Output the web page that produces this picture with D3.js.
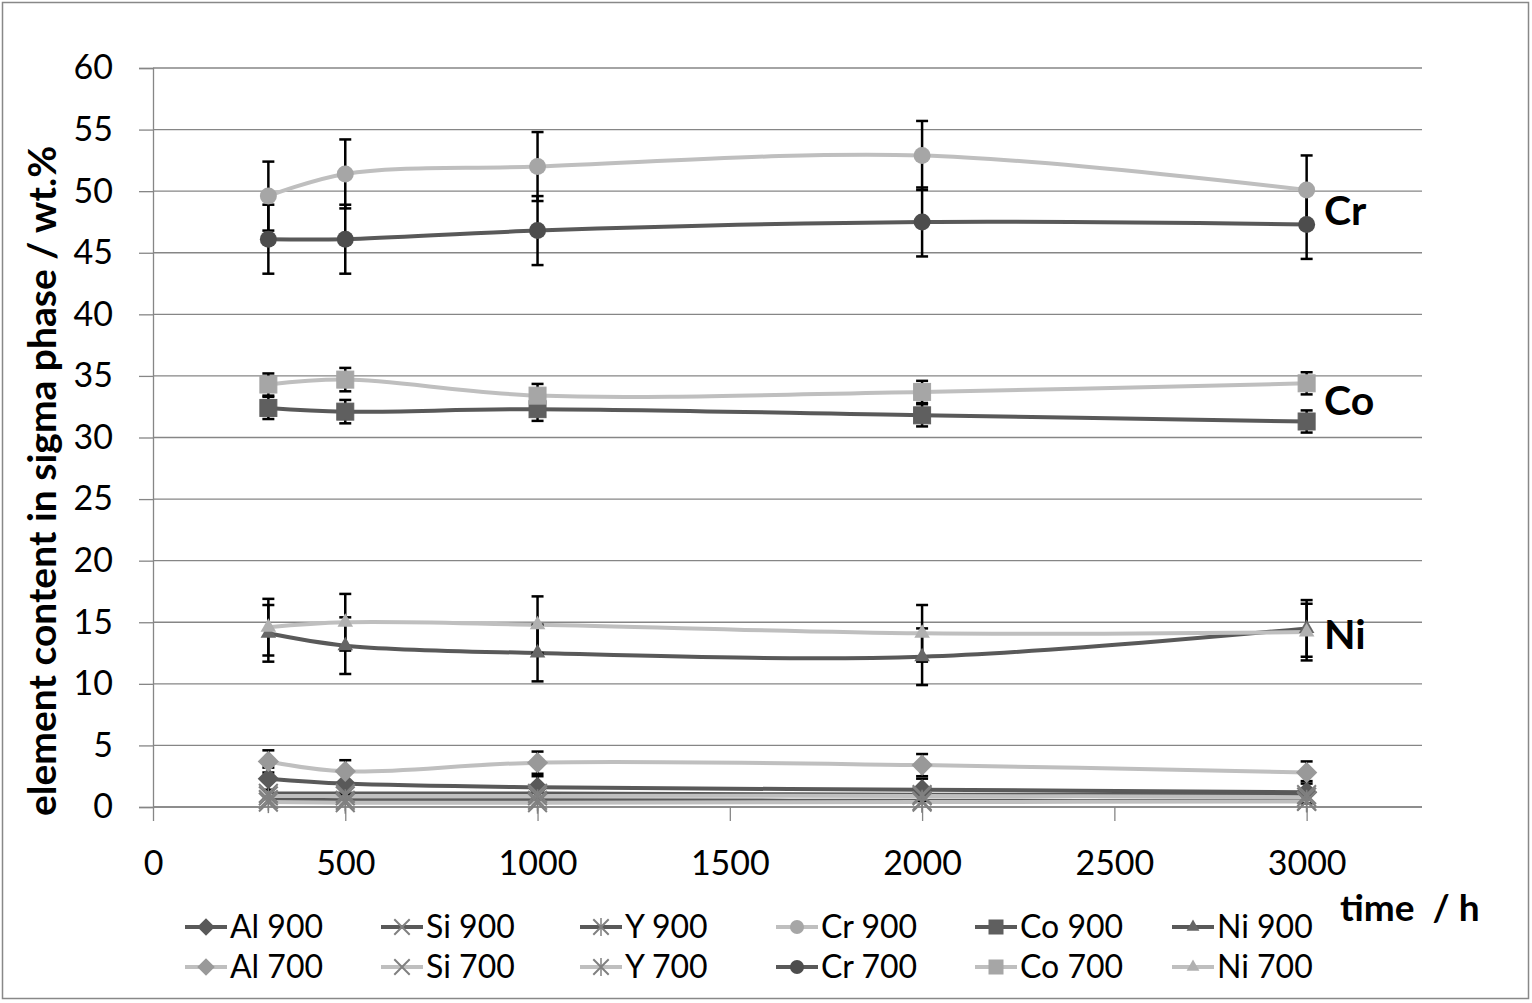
<!DOCTYPE html>
<html>
<head>
<meta charset="utf-8">
<script src="https://cdn.jsdelivr.net/npm/d3@7"></script>
<style>
  body { margin: 0; background: #fff; }
  svg { display: block; }
  text { font-family: Lato, "Open Sans", sans-serif; fill: #000; }
</style>
</head>
<body>
<svg width="1532" height="1003"></svg>
<script>
// time points (h)
const times = [300, 500, 1000, 2000, 3000];
const xTicks = [0, 500, 1000, 1500, 2000, 2500, 3000];
const yTicks = [0, 5, 10, 15, 20, 25, 30, 35, 40, 45, 50, 55, 60];

// element content in sigma phase (wt.%)
const al900 = [2.3, 1.9, 1.6, 1.4, 1.2];
const al700 = [3.7, 2.9, 3.6, 3.4, 2.8];
const si900 = [1.1, 1.1, 1.1, 1.0, 1.0];
const si700 = [0.9, 0.9, 0.9, 0.9, 0.8];
const y900 = [0.6, 0.55, 0.55, 0.5, 0.5];
const y700 = [0.4, 0.35, 0.35, 0.4, 0.45];
const cr900 = [49.6, 51.4, 52.0, 52.9, 50.1];
const cr700 = [46.1, 46.1, 46.8, 47.5, 47.3];
const co900 = [32.4, 32.1, 32.3, 31.8, 31.3];
const co700 = [34.3, 34.7, 33.4, 33.7, 34.4];
const ni900 = [14.1, 13.1, 12.5, 12.2, 14.5];
const ni700 = [14.6, 15.0, 14.8, 14.1, 14.2];

// error bar half widths
const alErr = [0.9, 0.9, 0.9, 0.9, 0.9];
const crErr = [2.8, 2.8, 2.8, 2.8, 2.8];
const coErr = [0.9, 0.95, 0.95, 0.9, 0.9];
const niErr = [2.3, 2.3, 2.3, 2.3, 2.3];
const smallErr = [0, 0, 0, 0, 0];

const DARK = '#595959', LIGHT = '#bfbfbf';

const series = [
  { name: 'Al 900', values: al900, err: alErr, line: DARK, fill: '#595959', marker: 'diamond' },
  { name: 'Si 900', values: si900, err: smallErr, line: DARK, fill: '#808080', marker: 'x' },
  { name: 'Y 900', values: y900, err: smallErr, line: DARK, fill: '#808080', marker: 'star' },
  { name: 'Cr 900', values: cr900, err: crErr, line: LIGHT, fill: '#a6a6a6', marker: 'circle' },
  { name: 'Co 900', values: co900, err: coErr, line: DARK, fill: '#5f5f5f', marker: 'square' },
  { name: 'Ni 900', values: ni900, err: niErr, line: DARK, fill: '#666666', marker: 'triangle' },
  { name: 'Al 700', values: al700, err: alErr, line: LIGHT, fill: '#999999', marker: 'diamond' },
  { name: 'Si 700', values: si700, err: smallErr, line: LIGHT, fill: '#808080', marker: 'x' },
  { name: 'Y 700', values: y700, err: smallErr, line: LIGHT, fill: '#808080', marker: 'star' },
  { name: 'Cr 700', values: cr700, err: crErr, line: DARK, fill: '#4d4d4d', marker: 'circle' },
  { name: 'Co 700', values: co700, err: coErr, line: LIGHT, fill: '#a6a6a6', marker: 'square' },
  { name: 'Ni 700', values: ni700, err: niErr, line: LIGHT, fill: '#b0b0b0', marker: 'triangle' },
];

const svg = d3.select('svg');

// outer frame
svg.append('rect').attr('x', 2.5).attr('y', 2.5).attr('width', 1526).attr('height', 996)
  .attr('fill', 'none').attr('stroke', '#888').attr('stroke-width', 1.5);

const x = d3.scaleLinear().domain([0, 3300]).range([153, 1422]);
const y = d3.scaleLinear().domain([0, 60]).range([807, 68]);

// gridlines
svg.append('g').selectAll('line').data(yTicks).join('line')
  .attr('x1', 153).attr('x2', 1422)
  .attr('y1', d => y(d)).attr('y2', d => y(d))
  .attr('stroke', '#868686').attr('stroke-width', 1.3);

// y axis
const yAxis = svg.append('g').attr('transform', 'translate(153,0)')
  .call(d3.axisLeft(y).tickValues(yTicks).tickSize(14).tickPadding(26));
yAxis.selectAll('line, path').attr('stroke', '#868686').attr('stroke-width', 1.3);
yAxis.selectAll('text').attr('font-size', 34).attr('font-family', 'Lato, sans-serif').attr('fill', '#000');

// x axis
const xAxis = svg.append('g').attr('transform', 'translate(0,807)')
  .call(d3.axisBottom(x).tickValues(xTicks).tickFormat(d3.format('d'))
    .tickSize(14).tickPadding(30).tickSizeOuter(0));
xAxis.select('path').attr('d', 'M153,0H1422').attr('stroke', '#868686').attr('stroke-width', 1.3);
xAxis.selectAll('line').attr('stroke', '#868686').attr('stroke-width', 1.3);
xAxis.selectAll('text').attr('font-size', 34).attr('font-family', 'Lato, sans-serif').attr('fill', '#000');

// axis titles
svg.append('text')
  .attr('transform', 'translate(56,481) rotate(-90)')
  .attr('text-anchor', 'middle')
  .attr('font-size', 39).attr('font-weight', 'bold')
  .text('element content in sigma phase / wt.%');

svg.append('text').attr('x', 1340).attr('y', 921)
  .attr('font-size', 37).attr('font-weight', 'bold')
  .attr('xml:space', 'preserve')
  .text('time  / h');

// element labels on the right
[['Cr', 48.4], ['Co', 33.0], ['Ni', 14.0]].forEach(([t, v]) => {
  svg.append('text').attr('x', 1324).attr('y', y(v) + 14)
    .attr('font-size', 41).attr('font-weight', 'bold').text(t);
});

function drawMarker(g, type, fill, size) {
  const s = size;
  if (type === 'circle') {
    g.append('circle').attr('r', s * 0.5).attr('fill', fill);
  } else if (type === 'square') {
    g.append('rect').attr('x', -s / 2).attr('y', -s / 2).attr('width', s).attr('height', s)
      .attr('fill', fill).attr('stroke', fill).attr('stroke-width', 1);
  } else if (type === 'diamond') {
    g.append('path').attr('d', d3.symbol(d3.symbolDiamond2, s * s * 1.0)()).attr('fill', fill);
  } else if (type === 'triangle') {
    g.append('path').attr('d', d3.symbol(d3.symbolTriangle2, s * s * 0.6)()).attr('fill', fill);
  } else if (type === 'x') {
    g.append('path').attr('d', d3.symbol(d3.symbolX, s * s * 0.8)()).attr('fill', 'none')
      .attr('stroke', fill).attr('stroke-width', 2);
  } else if (type === 'star') {
    g.append('path').attr('d', d3.symbol(d3.symbolX, s * s * 0.8)()).attr('fill', 'none')
      .attr('stroke', fill).attr('stroke-width', 2);
    g.append('line').attr('y1', -s * 0.65).attr('y2', s * 0.65).attr('stroke', fill).attr('stroke-width', 1.5);
  }
}

const line = d3.line()
  .x((d, i) => x(times[i]))
  .y(d => y(d))
  .curve(d3.curveCatmullRom.alpha(0.5));

const plot = svg.append('g');

// series lines
series.forEach(s => {
  plot.append('path').datum(s.values)
    .attr('d', line)
    .attr('fill', 'none')
    .attr('stroke', s.line)
    .attr('stroke-width', 4);
});

// error bars
series.forEach(s => {
  const eb = plot.append('g');
  s.values.forEach((v, i) => {
    const e = s.err[i];
    if (!e) return;
    const cx = x(times[i]);
    eb.append('line').attr('x1', cx).attr('x2', cx).attr('y1', y(v - e)).attr('y2', y(v + e))
      .attr('stroke', '#000').attr('stroke-width', 2.5);
    [v - e, v + e].forEach(t => {
      eb.append('line').attr('x1', cx - 6).attr('x2', cx + 6).attr('y1', y(t)).attr('y2', y(t))
        .attr('stroke', '#000').attr('stroke-width', 2.5);
    });
  });
});

// markers
series.forEach(s => {
  s.values.forEach((v, i) => {
    const g = plot.append('g').attr('transform', `translate(${x(times[i])},${y(v)})`);
    drawMarker(g, s.marker, s.fill, 17);
  });
});

// legend
const legendCols = [185, 381, 580, 776, 975, 1172];
series.forEach((s, k) => {
  const col = k % 6, row = Math.floor(k / 6);
  const lx = legendCols[col], ly = 927 + row * 40;
  const g = svg.append('g').attr('transform', `translate(${lx},${ly})`);
  g.append('line').attr('x1', 0).attr('x2', 42).attr('stroke', s.line).attr('stroke-width', 4);
  const m = g.append('g').attr('transform', 'translate(21,0)');
  drawMarker(m, s.marker, s.fill, 14);
  g.append('text').attr('x', 45).attr('y', 11).attr('font-size', 32).text(s.name);
});
</script>
</body>
</html>
